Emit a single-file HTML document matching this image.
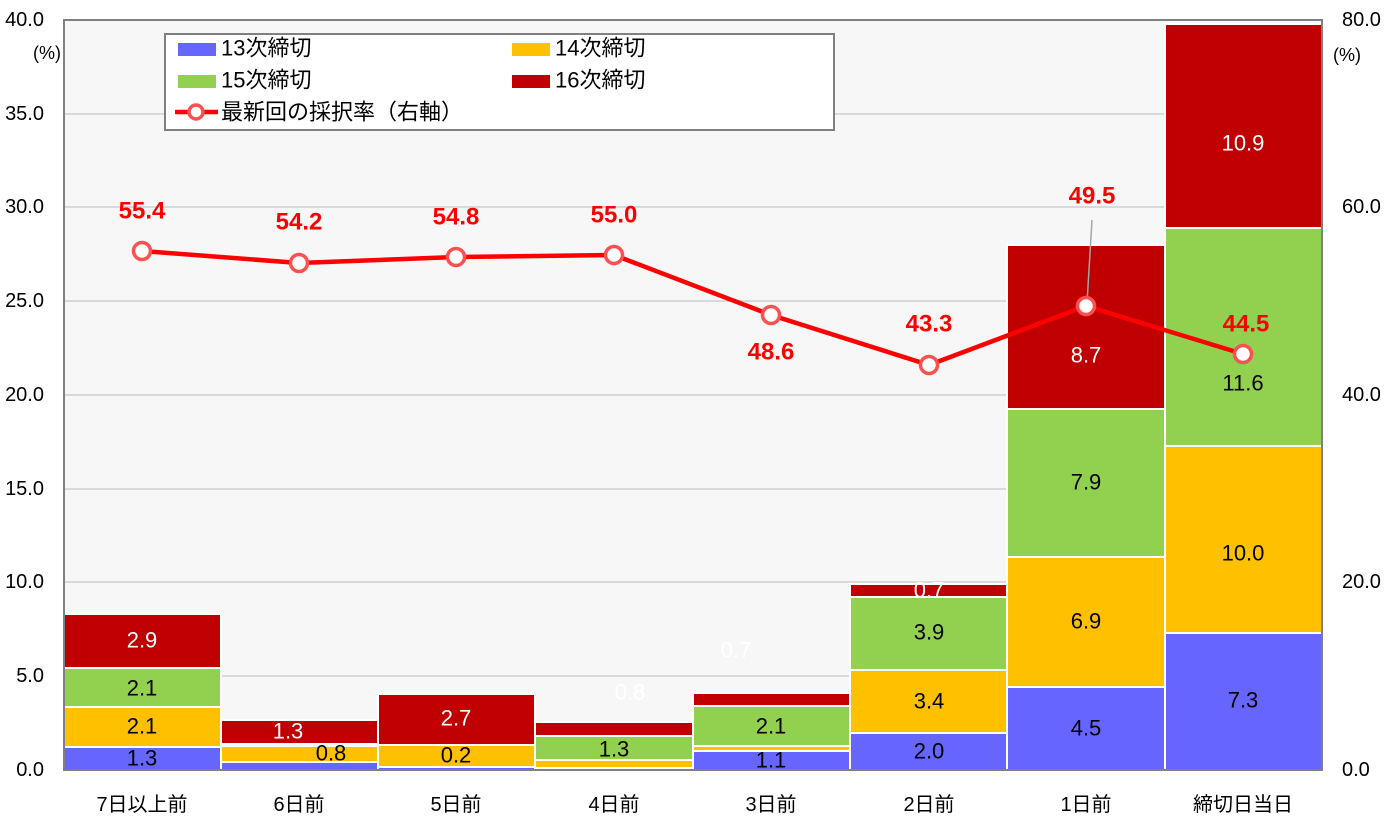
<!DOCTYPE html><html><head><meta charset="utf-8"><style>body{margin:0;background:#fff}svg{display:block}text{font-family:"Liberation Sans","Noto Sans CJK JP",sans-serif}</style></head><body>
<svg width="1386" height="825" xmlns="http://www.w3.org/2000/svg">
<rect x="64" y="20" width="1258" height="750" fill="#f7f7f7"/>
<g stroke="#d9d9d9" stroke-width="2">
<line x1="64" x2="1322" y1="676" y2="676"/><line x1="64" x2="1322" y1="582" y2="582"/><line x1="64" x2="1322" y1="489" y2="489"/><line x1="64" x2="1322" y1="395" y2="395"/><line x1="64" x2="1322" y1="301" y2="301"/><line x1="64" x2="1322" y1="207" y2="207"/><line x1="64" x2="1322" y1="114" y2="114"/>
</g>
<g stroke="#fff" stroke-width="2">
<rect x="64" y="747" width="157" height="23" fill="#6666ff"/><rect x="64" y="707" width="157" height="40" fill="#ffc000"/><rect x="64" y="668" width="157" height="39" fill="#92d050"/><rect x="64" y="614" width="157" height="54" fill="#c00000"/>
<rect x="221" y="762" width="157" height="8" fill="#6666ff"/><rect x="221" y="746" width="157" height="16" fill="#ffc000"/><rect x="221" y="744" width="157" height="2" fill="#92d050"/><rect x="221" y="720" width="157" height="24" fill="#c00000"/>
<rect x="378" y="767" width="157" height="3" fill="#6666ff"/><rect x="378" y="745" width="157" height="22" fill="#ffc000"/><rect x="378" y="694" width="157" height="51" fill="#c00000"/>
<rect x="535" y="768" width="158" height="2" fill="#6666ff"/><rect x="535" y="760" width="158" height="8" fill="#ffc000"/><rect x="535" y="736" width="158" height="24" fill="#92d050"/><rect x="535" y="722" width="158" height="14" fill="#c00000"/>
<rect x="693" y="751" width="157" height="19" fill="#6666ff"/><rect x="693" y="746" width="157" height="5" fill="#ffc000"/><rect x="693" y="706" width="157" height="40" fill="#92d050"/><rect x="693" y="693" width="157" height="13" fill="#c00000"/>
<rect x="850" y="733" width="157" height="37" fill="#6666ff"/><rect x="850" y="670" width="157" height="63" fill="#ffc000"/><rect x="850" y="597" width="157" height="73" fill="#92d050"/><rect x="850" y="584" width="157" height="13" fill="#c00000"/>
<rect x="1007" y="687" width="158" height="83" fill="#6666ff"/><rect x="1007" y="557" width="158" height="130" fill="#ffc000"/><rect x="1007" y="409" width="158" height="148" fill="#92d050"/><rect x="1007" y="245" width="158" height="164" fill="#c00000"/>
<rect x="1165" y="633" width="157" height="137" fill="#6666ff"/><rect x="1165" y="446" width="157" height="187" fill="#ffc000"/><rect x="1165" y="228" width="157" height="218" fill="#92d050"/><rect x="1165" y="24" width="157" height="204" fill="#c00000"/>
</g>
<rect x="64" y="20" width="1258" height="750" fill="none" stroke="#808080" stroke-width="2"/>
<g font-size="22" text-anchor="middle" dominant-baseline="central" fill="#000">
<text x="142" y="758">1.3</text><text x="142" y="726">2.1</text><text x="142" y="688">2.1</text><text x="142" y="640" fill="#fff">2.9</text>
<text x="331" y="753">0.8</text><text x="288" y="731" fill="#fff">1.3</text>
<text x="456" y="755">0.2</text><text x="456" y="718" fill="#fff">2.7</text>
<text x="614" y="749">1.3</text><text x="630" y="692" fill="#fff">0.8</text>
<text x="771" y="760">1.1</text><text x="771" y="726">2.1</text><text x="736" y="650" fill="#fff">0.7</text>
<text x="929" y="751">2.0</text><text x="929" y="701">3.4</text><text x="929" y="632">3.9</text><text x="929" y="590" fill="#fff">0.7</text>
<text x="1086" y="728">4.5</text><text x="1086" y="621">6.9</text><text x="1086" y="482">7.9</text><text x="1086" y="355" fill="#fff">8.7</text>
<text x="1243" y="700">7.3</text><text x="1243" y="553">10.0</text><text x="1243" y="383">11.6</text><text x="1243" y="143" fill="#fff">10.9</text>
</g>
<line x1="1092" y1="220" x2="1087" y2="303" stroke="#a6a6a6" stroke-width="1.5"/>
<polyline points="142,251 299,263 456,257 614,255 771,315 929,365 1086,306 1243,354" fill="none" stroke="#ff0000" stroke-width="4.5"/>
<g fill="#fff" stroke="#ff5050" stroke-width="3.5">
<circle cx="142" cy="251" r="8.5"/><circle cx="299" cy="263" r="8.5"/><circle cx="456" cy="257" r="8.5"/><circle cx="614" cy="255" r="8.5"/><circle cx="771" cy="315" r="8.5"/><circle cx="929" cy="365" r="8.5"/><circle cx="1086" cy="306" r="8.5"/><circle cx="1243" cy="354" r="8.5"/>
</g>
<g font-size="24" font-weight="bold" fill="#ff0000" text-anchor="middle" dominant-baseline="central">
<text x="142" y="211">55.4</text><text x="299" y="222">54.2</text><text x="456" y="217">54.8</text><text x="614" y="215">55.0</text><text x="771" y="352">48.6</text><text x="929" y="324">43.3</text><text x="1092" y="196">49.5</text><text x="1246" y="324">44.5</text>
</g>
<g font-size="20" fill="#000" text-anchor="end" dominant-baseline="central">
<text x="44" y="20">40.0</text><text x="44" y="114">35.0</text><text x="44" y="207">30.0</text><text x="44" y="301">25.0</text><text x="44" y="395">20.0</text><text x="44" y="489">15.0</text><text x="44" y="582">10.0</text><text x="44" y="676">5.0</text><text x="44" y="770">0.0</text>
<text x="61" y="53" font-size="18">(%)</text>
</g>
<g font-size="20" fill="#000" dominant-baseline="central">
<text x="1342" y="20">80.0</text><text x="1342" y="207">60.0</text><text x="1342" y="395">40.0</text><text x="1342" y="582">20.0</text><text x="1342" y="770">0.0</text><text x="1333" y="55" font-size="18">(%)</text>
</g>
<g font-size="20" fill="#000" text-anchor="middle" dominant-baseline="central">
<text x="142" y="805">7日以上前</text><text x="299" y="805">6日前</text><text x="456" y="805">5日前</text><text x="614" y="805">4日前</text><text x="771" y="805">3日前</text><text x="929" y="805">2日前</text><text x="1086" y="805">1日前</text><text x="1243" y="805">締切日当日</text>
</g>
<rect x="165" y="34" width="669" height="96" fill="#fff" stroke="#808080" stroke-width="2"/>
<rect x="178" y="43" width="38" height="13" fill="#6666ff"/><rect x="512" y="43" width="38" height="13" fill="#ffc000"/>
<rect x="178" y="75" width="38" height="13" fill="#92d050"/><rect x="512" y="75" width="38" height="13" fill="#c00000"/>
<line x1="175" y1="112" x2="218" y2="112" stroke="#ff0000" stroke-width="4.5"/><circle cx="196" cy="112" r="7" fill="#fff" stroke="#ff5050" stroke-width="3.5"/>
<g font-size="22" fill="#000" dominant-baseline="central">
<text x="221" y="48">13次締切</text><text x="555" y="48">14次締切</text><text x="221" y="80">15次締切</text><text x="555" y="80">16次締切</text><text x="221" y="112">最新回の採択率（右軸）</text>
</g>
</svg>
</body></html>
